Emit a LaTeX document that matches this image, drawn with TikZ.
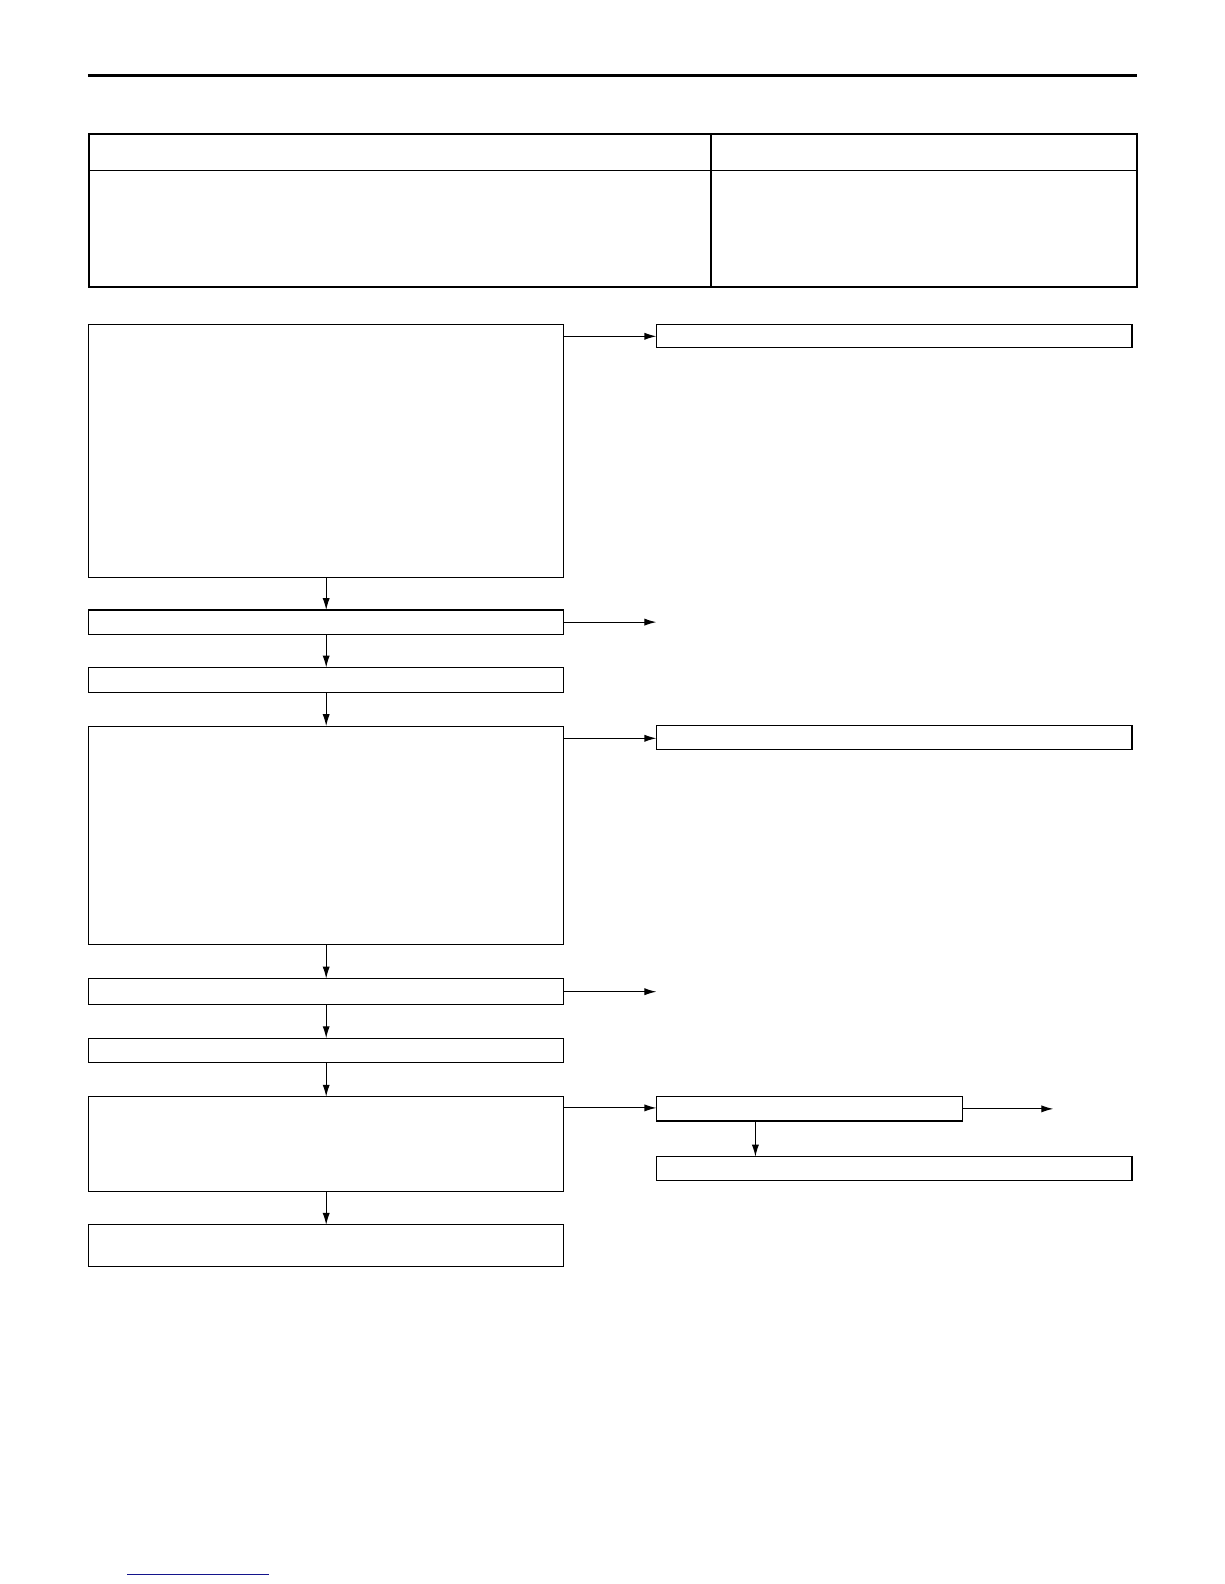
\documentclass[tikz,border=0pt]{standalone}
\usepackage{tikz}
\usetikzlibrary{positioning,calc,arrows.meta}
\definecolor{linkBlue}{RGB}{20, 20, 140}
\tikzset{
  stepbox/.style={draw=black,line width=0.55pt,inner sep=0pt,outer sep=0pt,
                  anchor=north west,minimum width=238.2pt},
  sidebox/.style={draw=black,line width=0.55pt,inner sep=0pt,outer sep=0pt,
                  anchor=north west,minimum width=238.7pt},
  flow/.style={line width=0.55pt,-{Latex[length=6pt,width=3.6pt]}}
}
\begin{document}
\begin{tikzpicture}[x=0.5019pt,y=-0.5019pt]
        \useasboundingbox (0,0) rectangle (1224,1584);

        % Header rule
        \draw[line width=1.6pt] (87.9,75.7) -- (1137,75.7);

        % Table frame
        \draw[line width=0.6pt] (88.9,170.7) -- (1137,170.7);
        \draw[line width=0.6pt] (711,134.3) -- (711,286.8);
        \draw[line width=1.1pt] (88.9,134.3) rectangle (1137,286.8);

        % Main column
        \node[stepbox,minimum height=127.2pt] (chk1) at (88.9,324.2) {};
        \node[stepbox,minimum height=12.15pt] (ok1) at (88.9,610) {};
        \node[stepbox,minimum height=12.7pt] (act1) at (88.9,667.5) {};
        \node[stepbox,minimum height=109.5pt] (chk2) at (88.9,726.1) {};
        \node[stepbox,minimum height=13.15pt] (ok2) at (88.9,978.6) {};
        \node[stepbox,minimum height=12.15pt] (act2) at (88.9,1038.2) {};
        \node[stepbox,minimum height=47.7pt] (chk3) at (88.9,1096.7) {};
        \node[stepbox,minimum height=20.8pt] (fin) at (88.9,1224.9) {};

        % Side column
        \node[sidebox,minimum height=11.64pt] (ng1) at (656.4,324.2) {};
        \node[sidebox,minimum height=12.15pt] (ng2) at (656.4,725.1) {};
        \node[sidebox,minimum width=153.6pt,minimum height=12.2pt] (ng3) at (656.4,1096.7) {};
        \node[sidebox,minimum height=12.15pt] (ng4) at (656.4,1156.6) {};

        % Free arrow ends
        \coordinate (end1) at ($(ok1.east)+(92.9,0)$);
        \coordinate (end2) at ($(ok2.east)+(92.9,0)$);
        \coordinate (end3) at ($(ng3.east)+(90.9,0)$);

        % Downward arrows
        \foreach \a/\b in {chk1/ok1,ok1/act1,act1/chk2,chk2/ok2,ok2/act2,act2/chk3,chk3/fin}
            \draw[flow] (\a.south) -- (\b.north);
        \draw[flow] ($(ng3.south west)+(99,0)$) -- ($(ng4.north west)+(99,0)$);

        % Sideways arrows
        \draw[flow] ($(chk1.north east)+(0,12.1)$) -- ($(ng1.north west)+(0,12.1)$);
        \draw[flow] (ok1.east) -- (end1);
        \draw[flow] ($(chk2.north east)+(0,12.2)$) -- ($(ng2.north west)+(0,13.2)$);
        \draw[flow] (ok2.east) -- (end2);
        \draw[flow] ($(chk3.north east)+(0,11.2)$) -- ($(ng3.north west)+(0,11.2)$);
        \draw[flow] (ng3.east) -- (end3);

        % Footer link line
        \draw[linkBlue,line width=0.8pt] (127,1574.5) -- (268.6,1574.5);
    \end{tikzpicture}
\end{document}
